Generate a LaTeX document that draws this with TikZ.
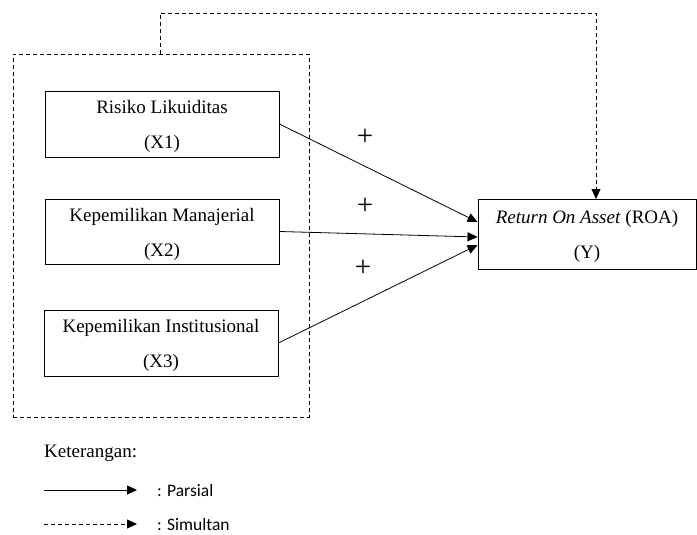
\documentclass[tikz,border=0pt]{standalone}
\usepackage{fontspec}
\setmainfont{Liberation Serif}
\newfontfamily\legfont{Carlito}
\usetikzlibrary{arrows.meta,calc}
\newcommand\mystrut{\rule{0pt}{19pt}}
\tikzset{
  varbox/.style={draw, line width=0.9pt, rectangle, inner sep=0pt, align=center,
    font=\fontsize{19}{35}\selectfont},
  grpbox/.style={draw, dashed, dash pattern=on 4pt off 3pt, line width=0.8pt, inner sep=0pt},
  parsial/.style={line width=0.8pt, -{Triangle[length=10pt,width=9pt]}},
  simultan/.style={line width=0.8pt, dash pattern=on 4pt off 3pt, -{Triangle[length=10pt,width=9pt]}},
  plus/.style={font=\fontsize{29}{30}\selectfont, inner sep=0pt},
  txt/.style={font=\fontsize{19}{23}\selectfont, inner sep=0pt, anchor=west},
  legtxt/.style={font=\legfont\fontsize{17.5}{21}\selectfont, inner sep=0pt, anchor=west}
}
\begin{document}
\begin{tikzpicture}[x=1pt,y=-1pt]
\useasboundingbox (0,0) rectangle (697,535);
% group box
\node[grpbox, minimum width=296pt, minimum height=363pt] (grp) at (161,235.5) {};
% variable boxes
\node[varbox, minimum width=234pt, minimum height=66pt] (x1) at (162,124) {\mystrut Risiko Likuiditas\\(X1)};
\node[varbox, minimum width=234pt, minimum height=65pt] (x2) at (162,231.5) {\mystrut Kepemilikan Manajerial\\(X2)};
\node[varbox, minimum width=234pt, minimum height=66pt] (x3) at (161,343) {\mystrut Kepemilikan Institusional\\(X3)};
\node[varbox, minimum width=218pt, minimum height=70pt] (roa) at (587,234) {\mystrut\textit{Return On Asset} (ROA)\\(Y)};
% connectors
\coordinate (r1) at ($(roa.west)+(0,-12)$);
\coordinate (r2) at ($(roa.west)+(0,3)$);
\coordinate (r3) at ($(roa.west)+(0,11)$);
\draw[parsial] (x1.east) -- (r1);
\draw[parsial] (x2.east) -- (r2);
\draw[parsial] (x3.east) -- (r3);
\coordinate (gtop) at (160,54);
\coordinate (rtop) at (596,199);
\draw[simultan] (gtop) -- (160,13) -- (596,13) -- (rtop);
% plus signs
\node[plus] (p1) at (365,137) {+};
\node[plus] (p2) at (365,206) {+};
\node[plus] (p3) at (363,268) {+};
% legend
\node[txt] (ket) at (44,453) {Keterangan:};
\coordinate (la1) at (44,490);
\coordinate (lb1) at (137,490);
\coordinate (la2) at (44,524);
\coordinate (lb2) at (137,524);
\draw[parsial] (la1) -- (lb1);
\draw[simultan] (la2) -- (lb2);
\node[legtxt] (lp) at (157,490) {: Parsial};
\node[legtxt] (ls) at (157,524) {: Simultan};
\end{tikzpicture}
\end{document}
